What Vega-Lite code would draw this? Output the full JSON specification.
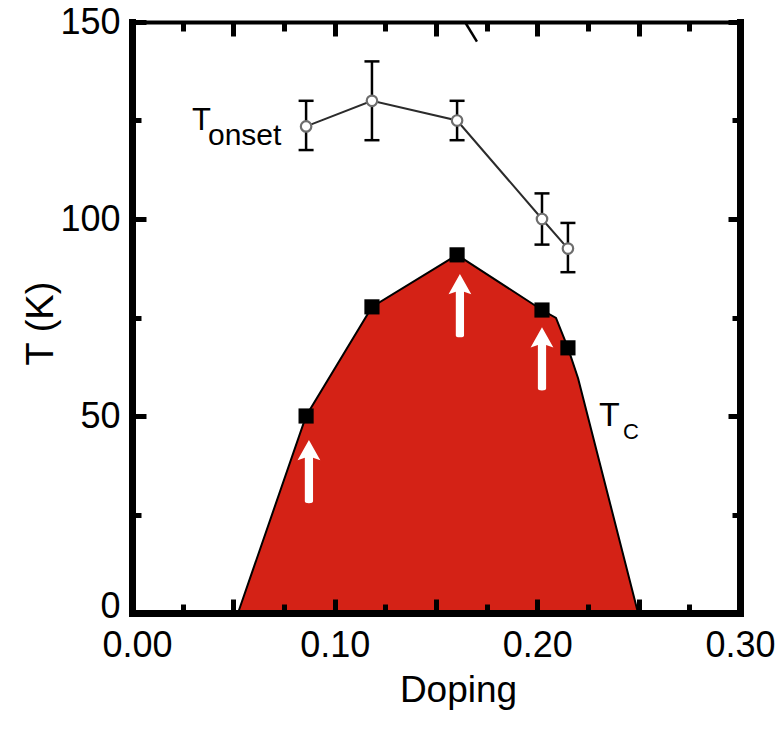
{
  "$schema": "https://vega.github.io/schema/vega-lite/v6.json",
  "width": 608,
  "height": 591,
  "autosize": {"type": "none"},
  "padding": {"left": 132, "top": 22, "right": 44, "bottom": 125},
  "background": "white",
  "config": {
    "view": {"stroke": null},
    "axis": {
      "grid": false,
      "domainColor": "black",
      "tickColor": "black",
      "labelColor": "black",
      "titleColor": "black",
      "labelFont": "Liberation Sans",
      "titleFont": "Liberation Sans",
      "titleFontWeight": "normal"
    }
  },
  "datasets": {
    "tc_outline": [
      {"doping": 0.0523, "T": 0},
      {"doping": 0.0859, "T": 50},
      {"doping": 0.1184, "T": 77.7},
      {"doping": 0.1604, "T": 90.9},
      {"doping": 0.2023, "T": 76.9},
      {"doping": 0.2092, "T": 74.9},
      {"doping": 0.2151, "T": 67.3},
      {"doping": 0.2201, "T": 59.6},
      {"doping": 0.2497, "T": 0}
    ],
    "tc_points": [
      {"doping": 0.0859, "T": 50},
      {"doping": 0.1184, "T": 77.7},
      {"doping": 0.1604, "T": 90.9},
      {"doping": 0.2023, "T": 76.9},
      {"doping": 0.2151, "T": 67.3}
    ],
    "onset": [
      {"doping": 0.0859, "T": 123.5, "lo": 117.5, "hi": 130},
      {"doping": 0.1184, "T": 130, "lo": 120, "hi": 140},
      {"doping": 0.1604, "T": 125, "lo": 120, "hi": 130},
      {"doping": 0.2023, "T": 100, "lo": 93.5, "hi": 106.5},
      {"doping": 0.2151, "T": 92.5, "lo": 86.5, "hi": 99}
    ],
    "arrows": [
      {"doping": 0.0873, "T": 35.9},
      {"doping": 0.1618, "T": 78.0},
      {"doping": 0.2023, "T": 64.5}
    ]
  },
  "layer": [
    {
      "data": {"name": "tc_outline"},
      "mark": {"type": "area", "color": "#D42216", "opacity": 1},
      "encoding": {
        "x": {"field": "doping", "type": "quantitative", "scale": {"domain": [0, 0.3], "nice": false, "zero": false},
          "axis": {"orient": "bottom", "values": [0, 0.025, 0.05, 0.075, 0.1, 0.125, 0.15, 0.175, 0.2, 0.225, 0.25, 0.275, 0.3],
            "labels": false, "title": null, "domainWidth": 7, "domainCap": "square", "tickWidth": 5, "zindex": 2,
            "tickSize": {"condition": {"test": "round(datum.value*40) % 2 === 0", "value": -14}, "value": -9}}},
        "y": {"field": "T", "type": "quantitative", "scale": {"domain": [0, 150], "nice": false},
          "axis": {"orient": "left", "values": [0, 25, 50, 75, 100, 125, 150],
            "labels": false, "title": null, "domainWidth": 7, "domainCap": "square", "tickWidth": 5, "zindex": 2,
            "tickSize": {"condition": {"test": "datum.value % 50 === 0", "value": -14}, "value": -9}}}
      }
    },
    {
      "data": {"name": "tc_outline"},
      "mark": {"type": "line", "color": "black", "strokeWidth": 2},
      "encoding": {
        "x": {"field": "doping", "type": "quantitative", "scale": {"domain": [0, 0.3], "nice": false, "zero": false},
          "axis": {"orient": "bottom", "values": [0, 0.1, 0.2, 0.3], "format": ".2f", "ticks": false, "domain": false,
            "labelFontSize": 36, "labelPadding": 15, "labelFlush": false,
            "labelOffset": {"condition": {"test": "datum.value === 0", "value": 5}, "value": 0},
            "title": "Doping", "titleFontSize": 37, "titleX": 326, "titleY": 59, "titleBaseline": "top"}},
        "y": {"field": "T", "type": "quantitative", "scale": {"domain": [0, 150], "nice": false},
          "axis": {"orient": "left", "values": [0, 50, 100, 150], "ticks": false, "domain": false,
            "labelFontSize": 36, "labelPadding": 12, "labelFlush": false,
            "labelOffset": {"condition": {"test": "datum.value === 0", "value": -7}, "value": 0},
            "title": "T (K)", "titleFontSize": 38, "titleX": -72, "titleY": 301, "titleAngle": -90, "titleBaseline": "bottom"}}
      }
    },
    {
      "data": {"name": "tc_points"},
      "mark": {"type": "point", "shape": "square", "filled": true, "color": "black", "size": 230, "opacity": 1},
      "encoding": {
        "x": {"field": "doping", "type": "quantitative", "scale": {"domain": [0, 0.3], "nice": false, "zero": false},
          "axis": {"orient": "top", "values": [0, 0.025, 0.05, 0.075, 0.1, 0.125, 0.15, 0.175, 0.2, 0.225, 0.25, 0.275, 0.3],
            "labels": false, "title": null, "domainWidth": 4, "domainCap": "square", "tickWidth": 5, "zindex": 2,
            "tickSize": {"condition": {"test": "round(datum.value*40) % 2 === 0", "value": -14}, "value": -9}}},
        "y": {"field": "T", "type": "quantitative", "scale": {"domain": [0, 150], "nice": false},
          "axis": {"orient": "right", "values": [0, 25, 50, 75, 100, 125, 150],
            "labels": false, "title": null, "domainWidth": 7, "domainCap": "square", "tickWidth": 5, "zindex": 2,
            "tickSize": {"condition": {"test": "datum.value % 50 === 0", "value": -12}, "value": -8}}}
      }
    },
    {
      "data": {"name": "arrows"},
      "mark": {"type": "point", "shape": "M0,-1L0.36,-0.36L0.13,-0.44L0.13,0.94Q0.13,1 0,1Q-0.13,1 -0.13,0.94L-0.13,-0.44L-0.36,-0.36Z", "filled": true, "color": "white", "size": 4000, "opacity": 1},
      "encoding": {
        "x": {"field": "doping", "type": "quantitative", "scale": {"domain": [0, 0.3], "nice": false, "zero": false}, "axis": null},
        "y": {"field": "T", "type": "quantitative", "scale": {"domain": [0, 150], "nice": false}, "axis": null}
      }
    },
    {
      "data": {"name": "onset"},
      "mark": {"type": "rule", "color": "black", "strokeWidth": 2.5},
      "encoding": {
        "x": {"field": "doping", "type": "quantitative", "scale": {"domain": [0, 0.3], "nice": false, "zero": false}, "axis": null},
        "y": {"field": "lo", "type": "quantitative", "scale": {"domain": [0, 150], "nice": false}, "axis": null},
        "y2": {"field": "hi"}
      }
    },
    {
      "data": {"name": "onset"},
      "mark": {"type": "tick", "orient": "horizontal", "color": "black", "size": 15, "thickness": 2.5, "opacity": 1},
      "encoding": {
        "x": {"field": "doping", "type": "quantitative", "scale": {"domain": [0, 0.3], "nice": false, "zero": false}, "axis": null},
        "y": {"field": "lo", "type": "quantitative", "scale": {"domain": [0, 150], "nice": false}, "axis": null}
      }
    },
    {
      "data": {"name": "onset"},
      "mark": {"type": "tick", "orient": "horizontal", "color": "black", "size": 15, "thickness": 2.5, "opacity": 1},
      "encoding": {
        "x": {"field": "doping", "type": "quantitative", "scale": {"domain": [0, 0.3], "nice": false, "zero": false}, "axis": null},
        "y": {"field": "hi", "type": "quantitative", "scale": {"domain": [0, 150], "nice": false}, "axis": null}
      }
    },
    {
      "data": {"name": "onset"},
      "mark": {"type": "line", "color": "#2b2b2b", "strokeWidth": 2},
      "encoding": {
        "x": {"field": "doping", "type": "quantitative", "scale": {"domain": [0, 0.3], "nice": false, "zero": false}, "axis": null},
        "y": {"field": "T", "type": "quantitative", "scale": {"domain": [0, 150], "nice": false}, "axis": null}
      }
    },
    {
      "data": {"name": "onset"},
      "mark": {"type": "point", "shape": "circle", "filled": true, "fill": "white", "stroke": "#6e6e6e", "strokeWidth": 2.2, "size": 110, "opacity": 1},
      "encoding": {
        "x": {"field": "doping", "type": "quantitative", "scale": {"domain": [0, 0.3], "nice": false, "zero": false}, "axis": null},
        "y": {"field": "T", "type": "quantitative", "scale": {"domain": [0, 150], "nice": false}, "axis": null}
      }
    },
    {
      "data": {"values": [{"x1": 0.1643, "x2": 0.1702, "t1": 150, "t2": 145}]},
      "mark": {"type": "rule", "color": "black", "strokeWidth": 2.5},
      "encoding": {
        "x": {"field": "x1", "type": "quantitative", "scale": {"domain": [0, 0.3], "nice": false, "zero": false}, "axis": null},
        "x2": {"field": "x2"},
        "y": {"field": "t1", "type": "quantitative", "scale": {"domain": [0, 150], "nice": false}, "axis": null},
        "y2": {"field": "t2"}
      }
    },
    {
      "data": {"values": [{"doping": 0.0296, "T": 122.6, "label": "T"}]},
      "mark": {"type": "text", "align": "left", "baseline": "alphabetic", "font": "Liberation Sans", "fontSize": 31, "color": "black"},
      "encoding": {
        "x": {"field": "doping", "type": "quantitative", "scale": {"domain": [0, 0.3], "nice": false, "zero": false}, "axis": null},
        "y": {"field": "T", "type": "quantitative", "scale": {"domain": [0, 150], "nice": false}, "axis": null},
        "text": {"field": "label"}
      }
    },
    {
      "data": {"values": [{"doping": 0.0375, "T": 118.8, "label": "onset"}]},
      "mark": {"type": "text", "align": "left", "baseline": "alphabetic", "font": "Liberation Sans", "fontSize": 30, "color": "black"},
      "encoding": {
        "x": {"field": "doping", "type": "quantitative", "scale": {"domain": [0, 0.3], "nice": false, "zero": false}, "axis": null},
        "y": {"field": "T", "type": "quantitative", "scale": {"domain": [0, 150], "nice": false}, "axis": null},
        "text": {"field": "label"}
      }
    },
    {
      "data": {"values": [{"doping": 0.2304, "T": 47.5, "label": "T"}]},
      "mark": {"type": "text", "align": "left", "baseline": "alphabetic", "font": "Liberation Sans", "fontSize": 34, "color": "black"},
      "encoding": {
        "x": {"field": "doping", "type": "quantitative", "scale": {"domain": [0, 0.3], "nice": false, "zero": false}, "axis": null},
        "y": {"field": "T", "type": "quantitative", "scale": {"domain": [0, 150], "nice": false}, "axis": null},
        "text": {"field": "label"}
      }
    },
    {
      "data": {"values": [{"doping": 0.2423, "T": 44.2, "label": "C"}]},
      "mark": {"type": "text", "align": "left", "baseline": "alphabetic", "font": "Liberation Sans", "fontSize": 22, "color": "black"},
      "encoding": {
        "x": {"field": "doping", "type": "quantitative", "scale": {"domain": [0, 0.3], "nice": false, "zero": false}, "axis": null},
        "y": {"field": "T", "type": "quantitative", "scale": {"domain": [0, 150], "nice": false}, "axis": null},
        "text": {"field": "label"}
      }
    }
  ],
  "resolve": {"axis": {"x": "independent", "y": "independent"}}
}
